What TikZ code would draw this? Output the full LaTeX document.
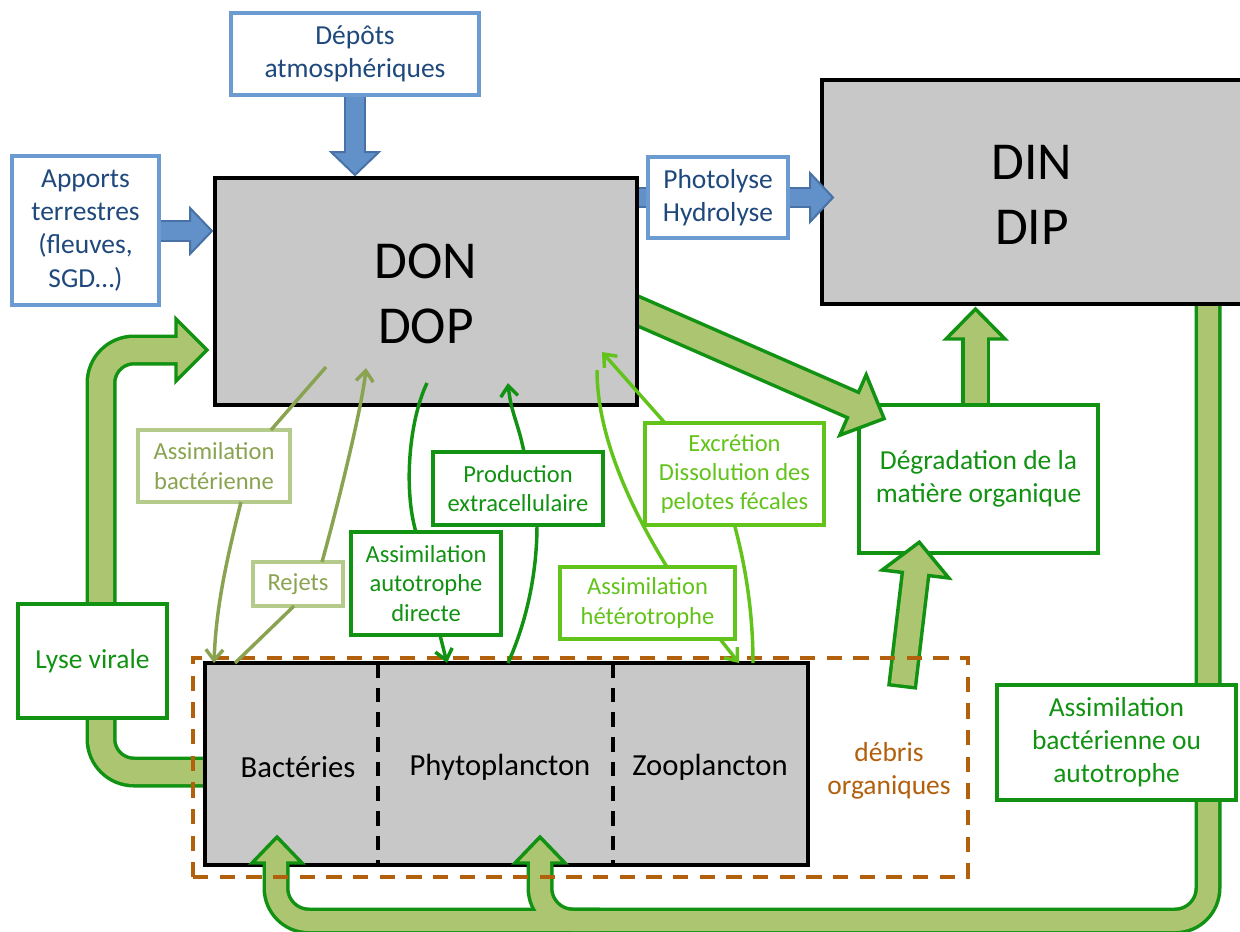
\documentclass[tikz,border=0pt]{standalone}
\usepackage{fontspec}
\setmainfont{Carlito}
\usetikzlibrary{arrows.meta,calc}
\definecolor{bluetxt}{RGB}{31,73,125}
\definecolor{bluebd}{RGB}{108,155,210}
\definecolor{bluefill}{RGB}{97,145,200}
\definecolor{blueedge}{RGB}{72,114,166}
\definecolor{dgreen}{RGB}{18,146,18}
\definecolor{bandfill}{RGB}{171,197,112}
\definecolor{olivetxt}{RGB}{137,163,80}
\definecolor{olivebd}{RGB}{181,203,139}
\definecolor{brightg}{RGB}{98,196,26}
\definecolor{boxgray}{RGB}{200,200,200}
\definecolor{debrisc}{RGB}{178,96,12}
\newcommand{\mybox}[7]{\node[#1,minimum width={(#5-#3)*0.75pt},minimum height={(#6-#4)*0.75pt},inner sep=0pt,align=center] (#2) at ({(#3+#5)/2},{(#4+#6)/2}) {#7};}
\begin{document}
\begin{tikzpicture}[x=0.75pt,y=-0.75pt,
  every node/.style={outer sep=0pt},
  bout/.style={draw=dgreen,line width=#1*0.75pt,rounded corners=24.75pt},
  bin/.style={draw=bandfill,line width=(#1-7)*0.75pt,rounded corners=24.75pt},
  bhead/.style={fill=bandfill,draw=dgreen,line width=2.6pt,line join=miter},
  bbout/.style={draw=blueedge,line width=#1*0.75pt},
  bbin/.style={draw=bluefill,line width=(#1-4)*0.75pt},
  bbhead/.style={fill=bluefill,draw=blueedge,line width=1.5pt,line join=miter},
  bigf/.style={font=\fontsize{20.6pt}{24.8pt}\selectfont},
  smallf/.style={font=\fontsize{18.4pt}{22pt}\selectfont},
  lblblue/.style={draw=bluebd,line width=2.4pt,fill=white,text=bluetxt,bigf},
  lblg/.style={draw=dgreen,line width=2.4pt,fill=white,text=dgreen,bigf},
  lblo/.style={draw=olivebd,line width=2.4pt,fill=white,text=olivetxt,smallf},
  lblsg/.style={draw=dgreen,line width=2.4pt,fill=white,text=dgreen,smallf},
  lblb/.style={draw=brightg,line width=2.4pt,fill=white,text=brightg,smallf},
  grayb/.style={draw=black,line width=2.5pt,fill=boxgray},
  bigt/.style={font=\fontsize{40pt}{48.75pt}\selectfont},
  orgt/.style={font=\fontsize{23pt}{28pt}\selectfont},
  oline/.style={draw=olivetxt,line width=2.6pt},
  gline/.style={draw=dgreen,line width=2.6pt},
  bline/.style={draw=brightg,line width=2.6pt},
  arr/.style={-{Straight Barb[length=8pt,width=13pt]}},
  divider/.style={draw=black,line width=2.4pt,dash pattern=on 11pt off 7.5pt},
  debbox/.style={draw=debrisc,line width=2.5pt,dash pattern=on 11.5pt off 8.5pt}
]
\useasboundingbox (0,0) rectangle (1240,932);
\clip (0,0) rectangle (1240,932);
\fill[white] (0,0) rectangle (1240,932);

% lysis virale band (Bacteries -> DON)
\draw[bout=31] (212,772) -- (101,772) -- (101,350) -- (176,350);
\filldraw[bhead] (176,319) -- (207,350) -- (176,381) -- cycle;
\draw[bin=31] (212,772) -- (101,772) -- (101,350) -- (179,350);

% degradation -> DIN band
\draw[bout=29] (975.5,410) -- (975.5,339);
\filldraw[bhead] (946,339) -- (975.5,309) -- (1005,339) -- cycle;
\draw[bin=29] (975.5,410) -- (975.5,336);

% organisms box
\mybox{grayb}{org}{205}{663}{808}{865}{}
\draw[divider] ($(org.north west)+(173,0)$) -- ($(org.south west)+(173,0)$);
\draw[divider] ($(org.north west)+(408,0)$) -- ($(org.south west)+(408,0)$);
\node[orgt] (bac) at (298,767) {Bactéries};
\node[orgt] (phy) at (500,767) {Phytoplancton};
\node[orgt] (zoo) at (710,767) {Zooplancton};

\mybox{lblg}{deg}{859}{405}{1098}{553}{Dégradation de la\\matière organique}
\mybox{lblg}{lys}{18}{604}{167}{718}{Lyse virale}

% right / bottom band
\draw[bout=27] (1208,290) -- (1208,921) -- (540,921) -- (540,863);
\draw[bout=27] (600,921) -- (276,921) -- (276,863);
\filldraw[bhead] (515,863) -- (540,837) -- (565,863) -- cycle;
\filldraw[bhead] (252,863) -- (277,837) -- (302,863) -- cycle;
\draw[bin=27] (1208,290) -- (1208,921) -- (540,921) -- (540,860);
\draw[bin=27] (600,921) -- (276,921) -- (276,860);

% diagonal band DON -> degradation
\draw[bout=31] (560,277) -- (853,405);
\filldraw[bhead] (866.2,374.8) -- (884.1,418.6) -- (839.8,435.2) -- cycle;
\draw[bin=31] (560,277) -- (855.7,406.2);

% debris -> degradation
\draw[bout=30] (902,688) -- (915.5,574);
\filldraw[bhead] (882.2,570) -- (919.3,542.2) -- (948.8,578) -- cycle;
\draw[bin=30,shorten <=2.6pt] (902,688) -- (915.9,571);

\mybox{grayb}{din}{822}{80}{1252}{304}{}
\node[bigt,align=center] (dintxt) at (1032,195) {DIN\\DIP};
\mybox{lblg}{abo}{997}{685}{1236}{800}{Assimilation\\bactérienne ou\\autotrophe}
\mybox{debbox}{deb}{193}{658}{968}{877}{}
\node[bigf,text=debrisc,align=center] (debt) at (889,771) {débris\\organiques};

% blue arrows
\draw[bbout=21] (630,197.5) -- (810,197.5);
\filldraw[bbhead] (810,173) -- (833,197.5) -- (810,222) -- cycle;
\draw[bbin=21] (630,197.5) -- (812.5,197.5);
\draw[bbout=22] (355,90) -- (355,152);
\filldraw[bbhead] (331,152) -- (355,175) -- (379,152) -- cycle;
\draw[bbin=22] (355,90) -- (355,154.5);
\draw[bbout=22] (150,231) -- (190,231);
\filldraw[bbhead] (190,208) -- (212,231) -- (190,254) -- cycle;
\draw[bbin=22] (150,231) -- (192.5,231);

\mybox{grayb}{don}{215}{178}{637}{405}{}
\node[bigt,align=center] (dontxt) at (426,294) {DON\\DOP};
\mybox{lblblue}{pho}{648}{157}{788}{238}{Photolyse\\Hydrolyse}
\mybox{lblblue}{dep}{231}{13}{479}{95}{Dépôts\\atmosphériques}
\mybox{lblblue}{app}{12}{156}{159}{305}{Apports\\terrestres\\(fleuves,\\SGD…)}

% label boxes
\mybox{lblo}{aba}{138}{430}{290}{502}{Assimilation\\bactérienne}
\mybox{lblo}{rej}{253}{562}{343}{606}{Rejets}
\mybox{lblsg}{aad}{351}{532}{501}{635}{Assimilation\\autotrophe\\directe}
\mybox{lblsg}{pro}{433}{452}{603}{525}{Production\\extracellulaire}
\mybox{lblb}{ahe}{560}{567}{735}{639}{Assimilation\\hétérotrophe}
\mybox{lblb}{exc}{645}{423}{824}{525}{Excrétion\\Dissolution des\\pelotes fécales}

% points inside DON
\coordinate (d1) at ($(don.south west)+(111,-38)$);
\coordinate (d2) at ($(don.south west)+(151,-37)$);
\coordinate (d3) at ($(don.south west)+(212,-22)$);
\coordinate (d4) at ($(don.south west)+(293,-22)$);
\coordinate (d5) at ($(don.south west)+(382,-35)$);
\coordinate (d6) at ($(don.south west)+(387,-53)$);

% thin connectors
\draw[oline] (d1) -- ($(aba.north)+(57,0)$);
\draw[oline,arr] ($(aba.south)+(27,0)$) .. controls +(-15,60) and +(2,-55) .. ($(org.north west)+(9,0)$);
\draw[oline] ($(org.north west)+(30,0)$) -- ($(rej.south)+(-4,0)$);
\draw[oline,arr] ($(rej.north)+(24,0)$) .. controls +(14,-50) and +(-4,40) .. (d2);
\draw[gline] (d3) .. controls +(-19,40) and +(-12,-40) .. ($(aad.north)+(-10,0)$);
\draw[gline,arr] ($(aad.south)+(14,0)$) -- ($(org.north west)+(242,0)$);
\draw[gline] ($(org.north west)+(303,0)$) .. controls +(18,-40) and +(0,50) .. ($(pro.south)+(19,0)$);
\draw[gline,arr] ($(pro.north)+(6,0)$) .. controls +(-6,-30) and +(3,30) .. (d4);
\draw[bline] (d5) .. controls +(0,70) and +(-32,-52) .. ($(ahe.north)+(19.5,0)$);
\draw[bline,arr] ($(ahe.south)+(72.5,0)$) -- ($(org.north west)+(534,0)$);
\draw[bline] ($(org.north west)+(548,0)$) .. controls +(0,-60) and +(8,30) .. (exc.south);
\draw[bline,arr] ($(exc.north)+(-69.5,0)$) -- (d6);
\end{tikzpicture}
\end{document}
